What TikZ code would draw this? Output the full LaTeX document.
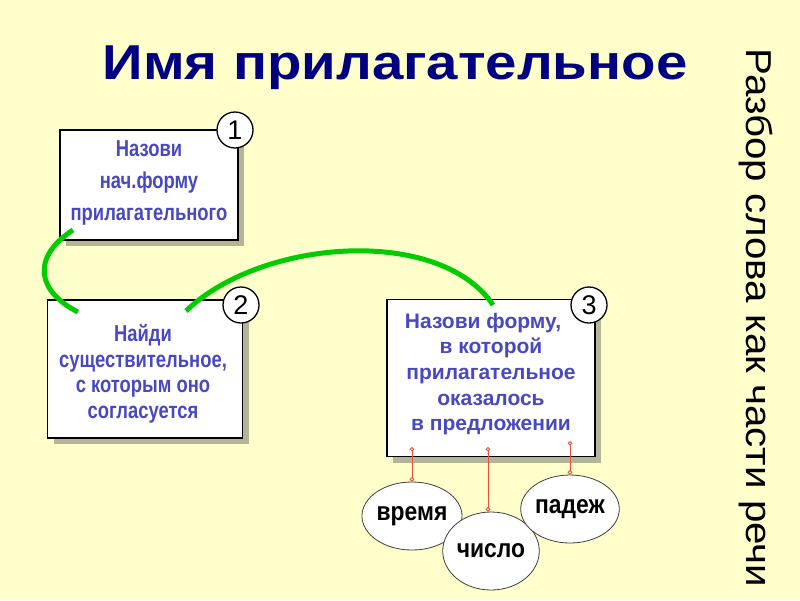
\documentclass[tikz,border=0pt]{standalone}
\usepackage{fontspec}
\setmainfont{Liberation Sans}
\newfontfamily\narrowfont[FakeStretch=0.8]{Liberation Sans}
\newfontfamily\circlefont[FakeStretch=0.88]{Liberation Sans}
\newfontfamily\widefont[FakeStretch=1.15]{Liberation Sans}
\newfontfamily\sidefont[FakeStretch=1.12]{Liberation Sans}
\usetikzlibrary{arrows.meta,shadows,shapes.geometric}
\definecolor{bg}{RGB}{255,255,204}
\definecolor{titleblue}{RGB}{0,0,128}
\definecolor{boxtext}{RGB}{72,72,192}
\definecolor{shadowc}{RGB}{180,180,150}
\definecolor{linkgreen}{RGB}{0,204,0}
\definecolor{redline}{RGB}{230,80,60}
\begin{document}
\begin{tikzpicture}[x=1pt,y=-1pt,
  taskbox/.style={draw=black,line width=1.5pt,fill=white,inner sep=0pt,
    drop shadow={shadow xshift=6pt,shadow yshift=-6pt,fill=shadowc,opacity=1}},
  tasktext/.style={align=center,text=boxtext,inner sep=0pt},
  narrowtext/.style={tasktext,font=\narrowfont\bfseries\fontsize{23}{32}\selectfont},
  narrowtighttext/.style={tasktext,font=\narrowfont\bfseries\fontsize{23}{25.5}\selectfont},
  widetext/.style={tasktext,font=\bfseries\fontsize{21}{25.7}\selectfont},
  numcircle/.style={circle,draw=black,line width=1.3pt,fill=white,minimum size=36pt,
    inner sep=0pt,font=\fontsize{27}{27}\selectfont},
  aspect/.style={ellipse,draw=black!75,line width=0.8pt,fill=white,inner sep=0pt,
    font=\circlefont\bfseries\fontsize{26}{26}\selectfont},
  link/.style={draw=linkgreen,line width=5pt},
  tie/.style={draw=redline,line width=0.9pt,
    {Circle[open,length=4.5pt,width=4.5pt]}-{Circle[open,length=4.5pt,width=4.5pt]}}
]
\fill[bg] (0,0) rectangle (800,600);
\useasboundingbox (0,0) rectangle (800,600);

\node[font=\widefont\bfseries\fontsize{49}{49}\selectfont,text=titleblue] (title) at (395,68) {Имя прилагательное};
\node[rotate=-90,font=\sidefont\fontsize{36}{36}\selectfont] (side) at (756,318) {Разбор слова как части речи};

\node[taskbox,minimum width=178pt,minimum height=110pt] (b1) at (149,185) {};
\node[narrowtext] (b1t) at (149,183) {Назови\\нач.форму\\прилагательного};
\node[taskbox,minimum width=195pt,minimum height=138pt] (b2) at (145,369) {};
\node[narrowtighttext] (b2t) at (143,374) {Найди\\существительное,\\с которым оно\\согласуется};
\node[taskbox,minimum width=208pt,minimum height=157pt] (b3) at (491,378) {};
\node[widetext] (b3t) at (491,374)
  {\hspace*{-16pt}Назови форму,\\в которой\\прилагательное\\оказалось\\в предложении};

\node[numcircle] (n1) at (235,130) {1};
\node[numcircle] (n2) at (241,305) {2};
\node[numcircle] (n3) at (589,305) {3};

\node[aspect,minimum width=74pt,minimum height=68pt] (vremya) at (412,516) {время};
\node[aspect,minimum width=80pt,minimum height=78pt] (chislo) at (491,551) {число};
\node[aspect,minimum width=76pt,minimum height=68pt] (padezh) at (570,509) {падеж};

\coordinate (g1s) at (73,230);
\coordinate (g1e) at (78,312);
\coordinate (g2s) at (186,311);
\coordinate (g2e) at (493,305);
\draw[link] (g1s) .. controls (30,258) and (38,292) .. (g1e);
\draw[link] (g2s) .. controls (262,238) and (440,226) .. (g2e);

\coordinate (t1) at (412,447);
\coordinate (t2) at (488,447);
\coordinate (t3) at (570,441);
\draw[tie] (t1) -- (vremya.north);
\draw[tie] (t2) -- (chislo.north -| t2);
\draw[tie] (t3) -- (padezh.north);
\end{tikzpicture}
\end{document}
